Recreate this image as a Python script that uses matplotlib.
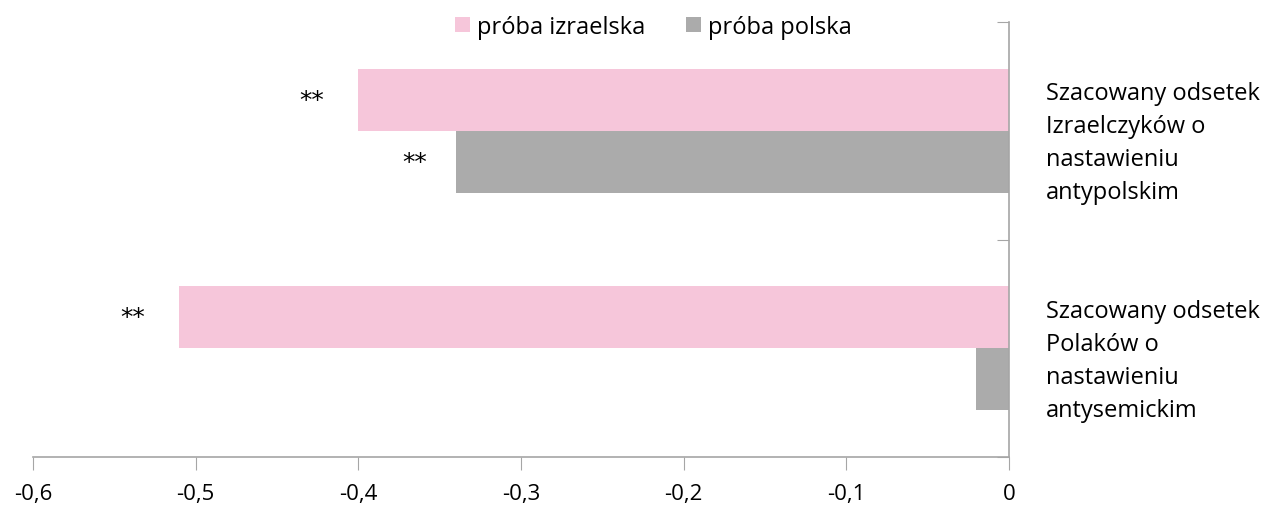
import numpy as np
import matplotlib.pyplot as plt
from matplotlib.ticker import FuncFormatter

plt.rcParams['font.family'] = ['Open Sans', 'DejaVu Sans']

categories = ['Szacowany odsetek\nPolaków o\nnastawieniu\nantysemickim',
              'Szacowany odsetek\nIzraelczyków o\nnastawieniu\nantypolskim']
izraelska = [-0.51, -0.40]
polska = [-0.02, -0.34]
stars_izr = ['**', '**']
stars_pol = ['', '**']

pink = '#f6c6da'
gray = '#ababab'
axis_col = '#a6a6a6'

fig = plt.figure(figsize=(12.81, 5.06), dpi=100)
ax = fig.add_axes([33/1281, 48/506, (1009-33)/1281, (458-23)/506])

y = np.arange(len(categories))
h = 0.286
b1 = ax.barh(y + h/2, izraelska, height=h, color=pink, label='próba izraelska')
b2 = ax.barh(y - h/2, polska, height=h, color=gray, label='próba polska')

for yi, v, s in zip(y + h/2, izraelska, stars_izr):
    if s:
        ax.text(v - 0.021, yi, s, ha='right', va='center', fontsize=18, family='DejaVu Sans')
for yi, v, s in zip(y - h/2, polska, stars_pol):
    if s:
        ax.text(v - 0.018, yi, s, ha='right', va='center', fontsize=18, family='DejaVu Sans')

ax.set_xlim(-0.6, 0)
ax.set_ylim(-0.5, 1.5)
ax.set_xticks(np.arange(-0.6, 0.01, 0.1))
ax.xaxis.set_major_formatter(FuncFormatter(
    lambda v, p: '0' if abs(v) < 1e-9 else f'{v:.1f}'.replace('.', ',')))
ax.set_yticks([-0.5, 0.5, 1.5])
ax.yaxis.tick_right()
ax.tick_params(axis='y', direction='in', length=9, color=axis_col, labelright=False)
ax.tick_params(axis='x', direction='out', length=9, color=axis_col, labelsize=16, pad=10)

for s in ['top', 'left']:
    ax.spines[s].set_visible(False)
for s in ['right', 'bottom']:
    ax.spines[s].set_color(axis_col)
    ax.spines[s].set_linewidth(1.2)

for yi, lab in zip(y, categories):
    ax.text(1.038, yi - 0.055, lab, transform=ax.get_yaxis_transform(), ha='left', va='center',
            fontsize=17, linespacing=1.5)

fig.legend(handles=[b1, b2], loc='center', bbox_to_anchor=(0.51, 0.945), ncol=2,
           frameon=False, fontsize=17, handlelength=0.65, handleheight=0.65,
           handletextpad=0.3, columnspacing=1.7, borderpad=0, borderaxespad=0)

fig.savefig('out.png', dpi=100)
